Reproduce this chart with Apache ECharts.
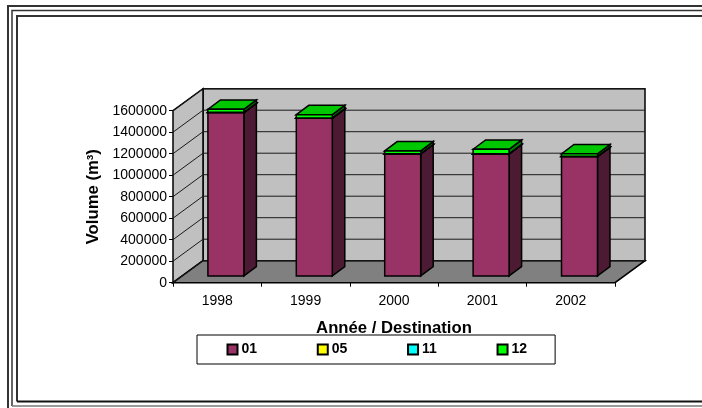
<!DOCTYPE html>
<html>
<head>
<meta charset="utf-8">
<title>Volume</title>
<script src="https://cdn.jsdelivr.net/npm/echarts@6/dist/echarts.min.js"></script>
<style>
html, body { margin: 0; padding: 0; background: #fff; }
#chart { width: 702px; height: 408px; }
</style>
</head>
<body>
<div id="chart"></div>
<script>
const years = ["1998", "1999", "2000", "2001", "2002"];
const dest01 = [1519000, 1467000, 1135000, 1135000, 1110000];
const dest05 = [1500, 1500, 1000, 1000, 1000];
const dest11 = [1500, 1500, 1000, 1000, 1000];
const dest12 = [28000, 30000, 26000, 41000, 24000];
const yTicks = [0, 200000, 400000, 600000, 800000, 1000000, 1200000, 1400000, 1600000];

const stacks = [dest01, dest05, dest11, dest12];
const names = ["01", "05", "11", "12"];
const fronts = ["#993366", "#ffff00", "#00ffff", "#00ff00"];
const tops = ["#7a2952", "#cccc00", "#00cccc", "#00c800"];
const sides = ["#4d1a33", "#808000", "#008080", "#008000"];

// pseudo 3d: how far the back wall and the bars are pushed, in px
const wallDx = 30, wallDy = -22;
const barDx = 8.7, barDy = -6.8, barDepthX = 12.5, barDepthY = -9.3;
const font = "'Liberation Sans', Arial, sans-serif";

function poly(points, fill, stroke, width) {
  return {
    type: "polygon",
    shape: { points: points },
    style: { fill: fill, stroke: stroke || "#000", lineWidth: width === undefined ? 1 : width, lineJoin: "miter" }
  };
}

function renderWalls(params, api) {
  const a = api.coord([0, 0]);
  const t = api.coord([0, yTicks[yTicks.length - 1]]);
  const left = params.coordSys.x;
  const right = left + params.coordSys.width;
  const bottom = a[1], top = t[1];
  return {
    type: "group",
    children: [
      poly([[left + wallDx, top + wallDy], [right + wallDx, top + wallDy], [right + wallDx, bottom + wallDy], [left + wallDx, bottom + wallDy]], "#c0c0c0", "#000", 1.5),
      poly([[left, top], [left + wallDx, top + wallDy], [left + wallDx, bottom + wallDy], [left, bottom]], "#c0c0c0", "#000", 1.5),
      poly([[left, bottom], [left + wallDx, bottom + wallDy], [right + wallDx, bottom + wallDy], [right, bottom]], "#808080", "#000", 1.5)
    ]
  };
}

function renderGridLine(params, api) {
  const p = api.coord([0, api.value(0)]);
  const left = params.coordSys.x;
  const right = left + params.coordSys.width;
  const y = p[1];
  return {
    type: "polyline",
    shape: { points: [[left, y], [left + wallDx, y + wallDy], [right + wallDx, y + wallDy]] },
    style: { fill: null, stroke: "#1a1a1a", lineWidth: 1 }
  };
}

function makeBarRenderer(index) {
  return function (params, api) {
    const cat = api.value(0);
    let base = 0;
    for (let i = 0; i < index; i++) base += stacks[i][cat];
    const top = base + api.value(1);
    const w = api.size([1, 0])[0] * 0.407;
    const pb = api.coord([cat, base]);
    const pt = api.coord([cat, top]);
    const x0 = pb[0] + barDx - w / 2;
    const x1 = x0 + w;
    const y0 = pb[1] + barDy;
    const y1 = pt[1] + barDy;
    return {
      type: "group",
      children: [
        poly([[x1, y0], [x1 + barDepthX, y0 + barDepthY], [x1 + barDepthX, y1 + barDepthY], [x1, y1]], sides[index], "#000", 1.5),
        poly([[x0, y1], [x0 + barDepthX, y1 + barDepthY], [x1 + barDepthX, y1 + barDepthY], [x1, y1]], tops[index], "#000", 1.5),
        poly([[x0, y0], [x1, y0], [x1, y1], [x0, y1]], fronts[index], "#000", 1.5)
      ]
    };
  };
}

function frameLine(pts, color, width) {
  return {
    type: "polyline",
    shape: { points: pts },
    style: { fill: null, stroke: color, lineWidth: width },
    silent: true
  };
}

const series = [
  { type: "custom", name: "walls", renderItem: renderWalls, data: [[0]], silent: true, z: 1, clip: false },
  { type: "custom", name: "lines", renderItem: renderGridLine, data: yTicks.map(v => [v]), silent: true, z: 2, clip: false, encode: { y: 0 } }
];
stacks.forEach((vals, i) => {
  series.push({
    type: "custom",
    name: names[i],
    renderItem: makeBarRenderer(i),
    data: vals.map((v, c) => [c, v]),
    itemStyle: { color: fronts[i], borderColor: "#000", borderWidth: 1.5 },
    silent: true,
    clip: false,
    z: 3 + i
  });
});

const chart = echarts.init(document.getElementById("chart"), null, { renderer: "canvas" });
chart.setOption({
  animation: false,
  backgroundColor: "#fff",
  textStyle: { fontFamily: font },
  grid: { left: 173, top: 110.7, width: 442, height: 172, containLabel: false },
  xAxis: {
    type: "category",
    data: years,
    boundaryGap: true,
    axisLine: { show: true, lineStyle: { color: "#000", width: 1 } },
    axisTick: { show: true, alignWithLabel: false, length: 4, lineStyle: { color: "#000" } },
    axisLabel: { color: "#000", fontSize: 14, fontFamily: font, margin: 11 },
    splitLine: { show: false },
    name: "Année / Destination",
    nameLocation: "middle",
    nameGap: 37,
    nameTextStyle: { color: "#000", fontSize: 16.7, fontWeight: "bold", fontFamily: font }
  },
  yAxis: {
    type: "value",
    min: 0,
    max: 1600000,
    interval: 200000,
    axisLine: { show: true, lineStyle: { color: "#000", width: 1 } },
    axisTick: { show: true, length: 4, lineStyle: { color: "#000" } },
    axisLabel: {
      color: "#000", fontSize: 14, fontFamily: font, margin: 6,
      padding: [4, 0, 0, 0],
      formatter: v => String(v)
    },
    splitLine: { show: false },
    name: "Volume (m³)",
    nameLocation: "middle",
    nameGap: 71,
    nameRotate: 90,
    nameTextStyle: { color: "#000", fontSize: 16.7, fontWeight: "bold", fontFamily: font }
  },
  legend: {
    data: names,
    orient: "horizontal",
    left: 197,
    top: 335,
    itemWidth: 10,
    itemHeight: 10,
    itemGap: 59.7,
    padding: [7.5, 28, 7.5, 29.5],
    backgroundColor: "#fff",
    borderColor: "#000",
    borderWidth: 1,
    borderRadius: 0,
    icon: "rect",
    selectedMode: false,
    textStyle: { color: "#000", fontSize: 14, fontWeight: "bold", fontFamily: font, padding: [0, 0, 0, -1] }
  },
  graphic: [
    frameLine([[8, 408], [8, 6], [702, 6]], "#333", 2),
    frameLine([[12, 406], [12, 10.5], [702, 10.5]], "#333", 1.5),
    frameLine([[17, 401.5], [17, 16], [702, 16]], "#333", 2),
    frameLine([[17, 401.5], [702, 401.5]], "#111", 2),
    frameLine([[12, 406], [702, 406]], "#777", 1.5)
  ],
  series: series
});
</script>
</body>
</html>
